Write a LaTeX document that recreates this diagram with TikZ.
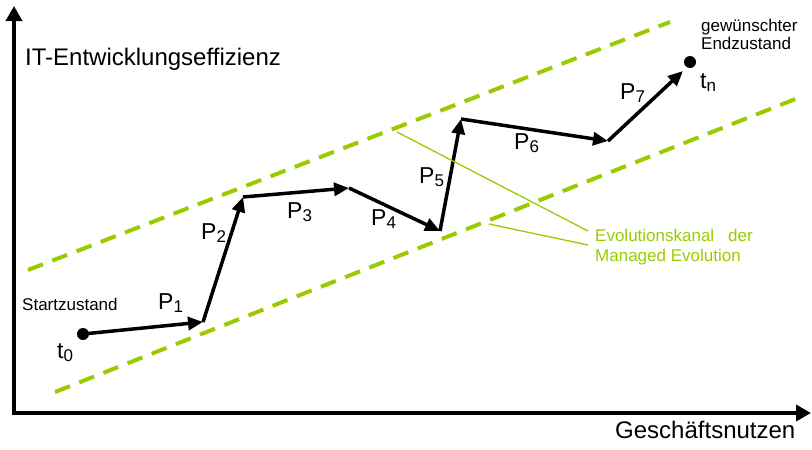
\documentclass[tikz,border=0pt]{standalone}
\usepackage{fontspec}
\setmainfont{Liberation Sans}
\usetikzlibrary{arrows.meta}
\definecolor{kanal}{HTML}{99CC00}
\newcommand{\mysub}[1]{\raisebox{-3pt}{\fontsize{17}{17}\selectfont #1}}
\tikzset{
  axisline/.style={line width=3.5pt, {Triangle[length=15pt,width=16pt]}-{Triangle[length=15pt,width=16pt]}},
  pathseg/.style={line width=3.5pt, -{Triangle[length=15pt,width=13pt]}},
  channel/.style={kanal, line width=4pt, dash pattern=on 16pt off 10pt},
  leader/.style={kanal, line width=1.3pt},
  axislabel/.style={font=\fontsize{24}{28}\selectfont, inner sep=0pt},
  biglabel/.style={font=\fontsize{23}{26}\selectfont, inner sep=0pt},
  smalllabel/.style={font=\fontsize{17}{18}\selectfont, inner sep=0pt, align=left},
  statedot/.style={circle, fill, inner sep=0pt, minimum size=12pt}
}
\begin{document}
\begin{tikzpicture}[x=1pt,y=-1pt]
\useasboundingbox (0,0) rectangle (812,450);
% axes
\coordinate (ytop) at (14,6);
\coordinate (O) at (14,413);
\coordinate (xend) at (811,413);
\draw[axisline] (ytop) -- (O) -- (xend);
\node[axislabel, anchor=base west] (ylab) at (25,65) {IT-Entwicklungseffizienz};
\node[axislabel, anchor=base west] (xlab) at (615,438) {Geschäftsnutzen};
% evolution channel
\coordinate (u1) at (28,270);
\coordinate (u2) at (670,22);
\coordinate (l1) at (55,392);
\coordinate (l2) at (798,98);
\draw[channel] (u1) -- (u2);
\draw[channel] (l1) -- (l2);
% states
\node[statedot] (t0) at (83,334) {};
\node[statedot] (tn) at (690,62) {};
\coordinate (a1) at (203,322);
\coordinate (a2) at (243,197);
\coordinate (a3) at (349,188);
\coordinate (a4) at (440,231);
\coordinate (a5) at (461,119);
\coordinate (a6) at (608,141);
\coordinate (a7) at (683,71);
\draw[pathseg] (t0.center) -- (a1);
\draw[pathseg] (a1) -- (a2);
\draw[pathseg] (a2) -- (a3);
\draw[pathseg] (a3) -- (a4);
\draw[pathseg] (a4) -- (a5);
\draw[pathseg] (a5) -- (a6);
\draw[pathseg] (a6) -- (a7);
% labels
\node[biglabel, anchor=base west] (p1) at (158,309) {P\mysub{1}};
\node[biglabel, anchor=base west] (p2) at (201,239) {P\mysub{2}};
\node[biglabel, anchor=base west] (p3) at (287,218) {P\mysub{3}};
\node[biglabel, anchor=base west] (p4) at (371,225) {P\mysub{4}};
\node[biglabel, anchor=base west] (p5) at (419,183) {P\mysub{5}};
\node[biglabel, anchor=base west] (p6) at (514,149) {P\mysub{6}};
\node[biglabel, anchor=base west] (p7) at (620,99) {P\mysub{7}};
\node[biglabel, anchor=base west] (lt0) at (57,358) {t\mysub{0}};
\node[biglabel, anchor=base west] (ltn) at (700,88) {t\mysub{n}};
\node[smalllabel, anchor=base west] (start) at (22,310) {Startzustand};
\node[smalllabel, anchor=north west] (ende) at (701,18.5) {gewünschter\\Endzustand};
% channel annotation
\node[smalllabel, kanal, anchor=north west, font=\fontsize{17}{19.5}\selectfont] (kt) at (595,229) {Evolutionskanal\hspace{14pt}der\\Managed Evolution};
\coordinate (lu) at (397,132);
\coordinate (ll) at (489,224);
\coordinate (k1) at (588,231);
\coordinate (k2) at (588,245);
\draw[leader] (lu) -- (k1);
\draw[leader] (ll) -- (k2);
\end{tikzpicture}
\end{document}
